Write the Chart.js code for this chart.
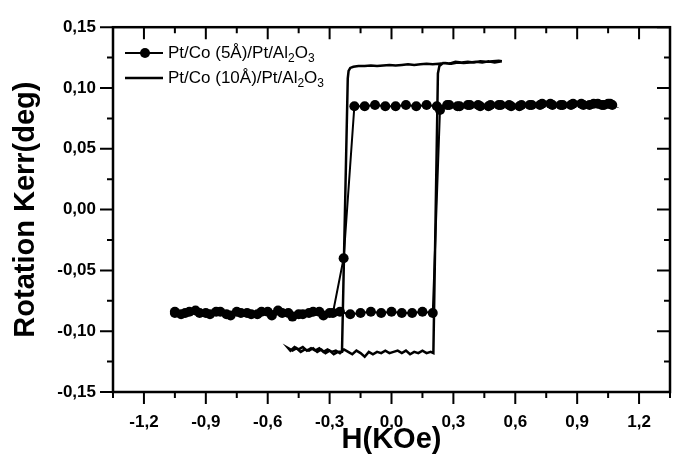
<!DOCTYPE html>
<html>
<head>
<meta charset="utf-8">
<script src="https://cdn.jsdelivr.net/npm/chart.js@4/dist/chart.umd.min.js"></script>
<style>
  html, body { margin: 0; padding: 0; background: #fff; overflow: hidden; }
  #wrap { width: 690px; height: 457px; }
</style>
</head>
<body>
<div id="wrap"><canvas id="kerr" width="690" height="457"></canvas></div>
<script>
// series names
const names = ["Pt/Co (5Å)/Pt/Al₂O₃", "Pt/Co (10Å)/Pt/Al₂O₃"];

// Pt/Co 5Å : field up (bottom row -> switch -> top row), then field down
const h5 = [
  -1.05, -1.00, -0.95, -0.90, -0.85, -0.80, -0.75, -0.70, -0.65, -0.60, -0.55, -0.50, -0.45, -0.40, -0.35,
  -0.30, -0.25, -0.20, -0.15, -0.10, -0.05, 0.00, 0.05, 0.10, 0.15, 0.20, 0.235, 0.28, 0.33, 0.38, 0.43,
  0.48, 0.53, 0.58, 0.63, 0.68, 0.73, 0.78, 0.83, 0.88, 0.93, 0.98, 1.02, 1.05, 1.07,
  1.06, 1.03, 1.00, 0.96, 0.92, 0.87, 0.82, 0.77, 0.72, 0.67, 0.62, 0.57, 0.52, 0.47, 0.42, 0.37,
  0.32, 0.27, 0.22, 0.17, 0.12, 0.07, 0.02, -0.03, -0.08, -0.13, -0.18, -0.232, -0.284, -0.33, -0.38,
  -0.43, -0.48, -0.53, -0.58, -0.63, -0.68, -0.73, -0.78, -0.83, -0.88, -0.93, -0.98, -1.02, -1.05
];
const k5 = [
  -0.084, -0.085, -0.083, -0.085, -0.084, -0.086, -0.084, -0.085, -0.086, -0.084, -0.083, -0.085, -0.086, -0.085, -0.084,
  -0.085, -0.084, -0.086, -0.085, -0.084, -0.085, -0.084, -0.085, -0.085, -0.084, -0.085, 0.082, 0.086, 0.085, 0.086, 0.085,
  0.086, 0.086, 0.085, 0.086, 0.086, 0.087, 0.086, 0.086, 0.087, 0.086, 0.087, 0.086, 0.087, 0.086,
  0.087, 0.086, 0.087, 0.086, 0.087, 0.086, 0.086, 0.087, 0.086, 0.086, 0.085, 0.086, 0.086, 0.085, 0.086, 0.086,
  0.085, 0.086, 0.085, 0.086, 0.085, 0.086, 0.085, 0.085, 0.086, 0.085, 0.085, -0.040, -0.085, -0.087, -0.084,
  -0.086, -0.088, -0.085, -0.087, -0.084, -0.086, -0.085, -0.087, -0.084, -0.086, -0.085, -0.084, -0.086, -0.085
];

// Pt/Co 10Å : field down (top -> left switch -> bottom), then field up
const h10 = [
  0.535, 0.50, 0.47, 0.44, 0.41, 0.38, 0.35, 0.32, 0.29, 0.26, 0.23, 0.20, 0.17, 0.14, 0.11, 0.08, 0.05, 0.02,
  -0.01, -0.04, -0.07, -0.10, -0.13, -0.16, -0.185, -0.200, -0.208, -0.212, -0.240,
  -0.26, -0.28, -0.30, -0.32, -0.34, -0.36, -0.38, -0.40, -0.42, -0.44, -0.46, -0.48, -0.50,
  -0.49, -0.47, -0.45, -0.43, -0.41, -0.39, -0.37, -0.35, -0.33, -0.31, -0.29, -0.27, -0.25, -0.23, -0.21,
  -0.19, -0.17, -0.15, -0.13, -0.11, -0.09, -0.07, -0.05, -0.03, -0.01, 0.01, 0.03, 0.05, 0.07, 0.09, 0.11,
  0.13, 0.15, 0.17, 0.19, 0.203, 0.225, 0.232, 0.25, 0.28, 0.31, 0.34, 0.37, 0.40, 0.43, 0.46, 0.49, 0.52, 0.535
];
const k10 = [
  0.122, 0.121, 0.122, 0.121, 0.1215, 0.121, 0.1205, 0.121, 0.120, 0.1205, 0.120, 0.1195, 0.120, 0.1195, 0.119, 0.1195, 0.119, 0.1185,
  0.119, 0.1185, 0.118, 0.1185, 0.118, 0.118, 0.1175, 0.1165, 0.114, 0.108, -0.117,
  -0.117, -0.119, -0.116, -0.118, -0.115, -0.117, -0.114, -0.116, -0.115, -0.117, -0.114, -0.116, -0.114,
  -0.116, -0.113, -0.115, -0.113, -0.116, -0.114, -0.116, -0.114, -0.117, -0.115, -0.117, -0.116, -0.118, -0.115, -0.117,
  -0.119, -0.116, -0.118, -0.121, -0.117, -0.119, -0.117, -0.118, -0.116, -0.118, -0.117, -0.116, -0.118, -0.116, -0.119, -0.117,
  -0.118, -0.116, -0.118, -0.117, -0.118, 0.112, 0.118, 0.1205, 0.120, 0.1215, 0.121, 0.1215, 0.121, 0.122, 0.1215, 0.122, 0.1225, 0.122
];

const toPts = (xs, ys) => xs.map((x, i) => ({ x: x, y: ys[i] }));
const comma = (v, d) => (Math.abs(v) < 1e-9 ? 0 : v).toFixed(d).replace(".", ",");
const isMajor = (v, step) => Math.abs(v / step - Math.round(v / step)) < 1e-6;

// frame, inward/outward ticks, legend with subscripts
const framePlugin = {
  id: "frame",
  afterDraw(chart) {
    const { ctx, chartArea: a, scales } = chart;
    ctx.save();
    ctx.strokeStyle = "#000";
    ctx.lineWidth = 2.5;
    ctx.strokeRect(a.left, a.top, a.right - a.left, a.bottom - a.top);
    ctx.lineWidth = 2;
    ctx.beginPath();
    scales.x.ticks.forEach((t) => {
      const px = scales.x.getPixelForValue(t.value);
      const len = isMajor(t.value, 0.3) ? 12 : 6;
      ctx.moveTo(px, a.bottom); ctx.lineTo(px, a.bottom + len);
      ctx.moveTo(px, a.top); ctx.lineTo(px, a.top + len);
    });
    scales.y.ticks.forEach((t) => {
      const py = scales.y.getPixelForValue(t.value);
      const len = isMajor(t.value, 0.05) ? 13 : 6;
      ctx.moveTo(a.left - len, py); ctx.lineTo(a.left, py);
      ctx.moveTo(a.right - len, py); ctx.lineTo(a.right, py);
    });
    ctx.stroke();

    // legend
    const size = 17;
    chart.data.datasets.forEach((ds, i) => {
      const y = 53 + i * 25;
      ctx.strokeStyle = "#000";
      ctx.lineWidth = ds.borderWidth;
      ctx.beginPath(); ctx.moveTo(125, y); ctx.lineTo(163, y); ctx.stroke();
      if (ds.pointRadius > 0) {
        ctx.fillStyle = "#000";
        ctx.beginPath(); ctx.arc(145, y, ds.pointRadius, 0, Math.PI * 2); ctx.fill();
      }
      let x = 168;
      ctx.fillStyle = "#000";
      ctx.textBaseline = "middle";
      for (const ch of ds.label) {
        const code = ch.charCodeAt(0);
        if (code >= 0x2080 && code <= 0x2089) {
          const d = String.fromCharCode(code - 0x2080 + 48);
          ctx.font = Math.round(size * 0.7) + "px 'Liberation Sans', Arial, sans-serif";
          ctx.fillText(d, x, y + size * 0.35);
          x += ctx.measureText(d).width;
        } else {
          ctx.font = size + "px 'Liberation Sans', Arial, sans-serif";
          ctx.fillText(ch, x, y);
          x += ctx.measureText(ch).width;
        }
      }
    });
    ctx.restore();
  }
};

const tickFont = { family: "'Liberation Sans', Arial, sans-serif", size: 17, weight: "bold" };
const titleFont = { family: "'Liberation Sans', Arial, sans-serif", size: 29, weight: "bold" };

new Chart(document.getElementById("kerr"), {
  type: "scatter",
  data: {
    datasets: [
      {
        label: names[0],
        data: toPts(h5, k5),
        showLine: true,
        borderColor: "#000",
        backgroundColor: "#000",
        borderWidth: 2,
        pointRadius: 5,
        pointBorderWidth: 0,
        tension: 0
      },
      {
        label: names[1],
        data: toPts(h10, k10),
        showLine: true,
        borderColor: "#000",
        borderWidth: 2.5,
        pointRadius: 0,
        tension: 0
      }
    ]
  },
  options: {
    responsive: false,
    animation: false,
    devicePixelRatio: 1,
    layout: { padding: { top: 23, right: 9, left: 0, bottom: 0 } },
    plugins: { legend: { display: false }, tooltip: { enabled: false } },
    scales: {
      x: {
        type: "linear",
        min: -1.35,
        max: 1.35,
        afterFit: (s) => { s.height = 65; },
        grid: { display: false, drawTicks: false },
        border: { display: false },
        ticks: {
          stepSize: 0.15,
          autoSkip: false,
          maxRotation: 0,
          padding: 20,
          color: "#000",
          font: tickFont,
          callback: (v) => (isMajor(v, 0.3) ? comma(v, 1) : "")
        },
        title: { display: true, text: "H(KOe)", color: "#000", font: titleFont, padding: { top: 0, bottom: 0 } }
      },
      y: {
        type: "linear",
        min: -0.15,
        max: 0.15,
        afterFit: (s) => { s.width = 113; },
        grid: { display: false, drawTicks: false },
        border: { display: false },
        ticks: {
          stepSize: 0.025,
          autoSkip: false,
          padding: 17,
          color: "#000",
          font: tickFont,
          callback: (v) => (isMajor(v, 0.05) ? comma(v, 2) : "")
        },
        title: { display: true, text: "Rotation Kerr(deg)", color: "#000", font: titleFont, padding: { top: 9, bottom: 0 } }
      }
    }
  },
  plugins: [framePlugin]
});
</script>
</body>
</html>
